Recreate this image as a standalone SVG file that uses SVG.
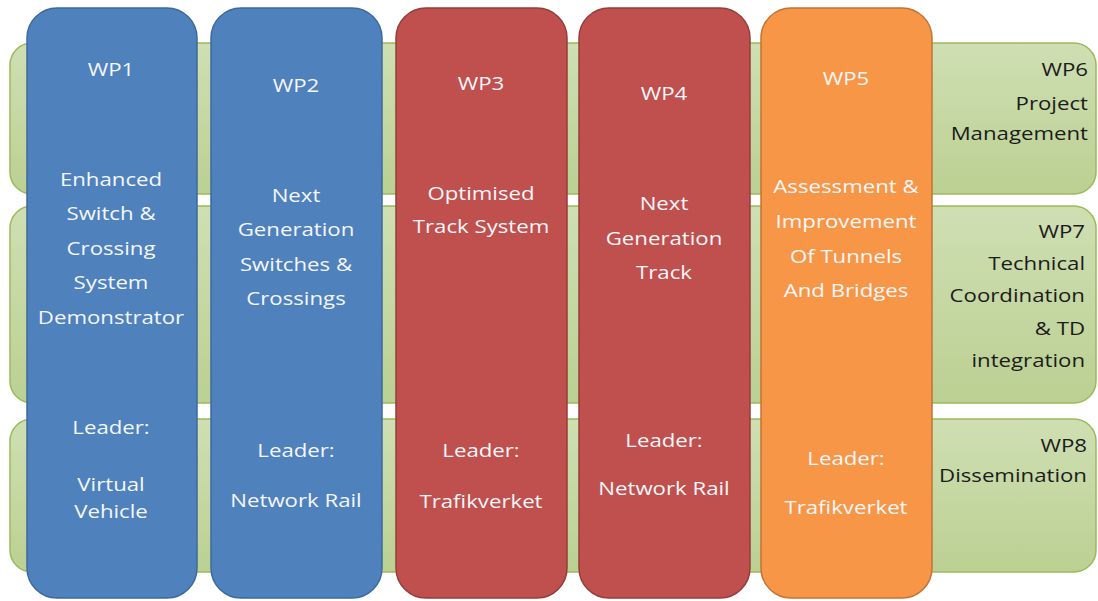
<svg xmlns="http://www.w3.org/2000/svg" width="1098" height="601" viewBox="0 0 1098 601">
  <defs>
    <linearGradient id="gband" x1="0" y1="0" x2="0" y2="1">
      <stop offset="0" stop-color="#CFDFB3"/>
      <stop offset="1" stop-color="#BBD092"/>
    </linearGradient>
    <style>
      .band { fill: url(#gband); stroke: #9BBB59; stroke-width: 1.5; }
      .blue { fill: #4F81BD; stroke: #3D6A9E; stroke-width: 1.5; }
      .red { fill: #C0504D; stroke: #943E3B; stroke-width: 1.5; }
      .orange { fill: #F79646; stroke: #C27336; stroke-width: 1.5; }
      text { font-family: "Open Sans", "Liberation Sans", sans-serif; font-size: 19px; }
      .w { fill: #F4F6FA; text-anchor: middle; }
      .k { fill: #1C1C1C; text-anchor: end; }
    </style>
  </defs>
  <rect width="1098" height="601" fill="#FFFFFF"/>

  <g id="bands">
    <g id="WP6">
      <rect class="band" x="10" y="43" width="1086" height="151" rx="22" ry="22"/>
      <g transform="translate(1088 0) scale(1.17 1)">
        <text class="k" x="0" y="76">WP6</text>
        <text class="k" x="0" y="110">Project</text>
        <text class="k" x="0" y="140">Management</text>
      </g>
    </g>
    <g id="WP7">
      <rect class="band" x="10" y="206" width="1086" height="197" rx="22" ry="22"/>
      <g transform="translate(1085 0) scale(1.17 1)">
        <text class="k" x="0" y="238">WP7</text>
        <text class="k" x="0" y="270">Technical</text>
        <text class="k" x="0" y="302">Coordination</text>
        <text class="k" x="0" y="335">&amp; TD</text>
        <text class="k" x="0" y="367">integration</text>
      </g>
    </g>
    <g id="WP8">
      <rect class="band" x="10" y="419" width="1086" height="153" rx="22" ry="22"/>
      <g transform="translate(1087 0) scale(1.17 1)">
        <text class="k" x="0" y="452">WP8</text>
        <text class="k" x="0" y="482">Dissemination</text>
      </g>
    </g>
  </g>

  <g id="connectors"/>

  <g id="WP1">
    <rect class="blue" x="27" y="8" width="170" height="590" rx="30" ry="30"/>
    <g transform="translate(111 0) scale(1.17 1)">
      <text class="w" x="0" y="76">WP1</text>
      <text class="w" x="0" y="186">Enhanced</text>
      <text class="w" x="0" y="220">Switch &amp;</text>
      <text class="w" x="0" y="255">Crossing</text>
      <text class="w" x="0" y="289">System</text>
      <text class="w" x="0" y="324">Demonstrator</text>
      <text class="w" x="0" y="434">Leader:</text>
      <text class="w" x="0" y="491">Virtual</text>
      <text class="w" x="0" y="518">Vehicle</text>
    </g>
  </g>

  <g id="WP2">
    <rect class="blue" x="211" y="8" width="171" height="590" rx="30" ry="30"/>
    <g transform="translate(296 0) scale(1.17 1)">
      <text class="w" x="0" y="92">WP2</text>
      <text class="w" x="0" y="202">Next</text>
      <text class="w" x="0" y="236">Generation</text>
      <text class="w" x="0" y="271">Switches &amp;</text>
      <text class="w" x="0" y="305">Crossings</text>
      <text class="w" x="0" y="457">Leader:</text>
      <text class="w" x="0" y="507">Network Rail</text>
    </g>
  </g>

  <g id="WP3">
    <rect class="red" x="396" y="8" width="171" height="590" rx="30" ry="30"/>
    <g transform="translate(481 0) scale(1.17 1)">
      <text class="w" x="0" y="90">WP3</text>
      <text class="w" x="0" y="200">Optimised</text>
      <text class="w" x="0" y="233">Track System</text>
      <text class="w" x="0" y="457">Leader:</text>
      <text class="w" x="0" y="508">Trafikverket</text>
    </g>
  </g>

  <g id="WP4">
    <rect class="red" x="579" y="8" width="171" height="590" rx="30" ry="30"/>
    <g transform="translate(664 0) scale(1.17 1)">
      <text class="w" x="0" y="100">WP4</text>
      <text class="w" x="0" y="210">Next</text>
      <text class="w" x="0" y="245">Generation</text>
      <text class="w" x="0" y="279">Track</text>
      <text class="w" x="0" y="447">Leader:</text>
      <text class="w" x="0" y="495">Network Rail</text>
    </g>
  </g>

  <g id="WP5">
    <rect class="orange" x="761" y="8" width="171" height="590" rx="30" ry="30"/>
    <g transform="translate(846 0) scale(1.17 1)">
      <text class="w" x="0" y="85">WP5</text>
      <text class="w" x="0" y="193">Assessment &amp;</text>
      <text class="w" x="0" y="228">Improvement</text>
      <text class="w" x="0" y="263">Of Tunnels</text>
      <text class="w" x="0" y="297">And Bridges</text>
      <text class="w" x="0" y="465">Leader:</text>
      <text class="w" x="0" y="514">Trafikverket</text>
    </g>
  </g>
</svg>
